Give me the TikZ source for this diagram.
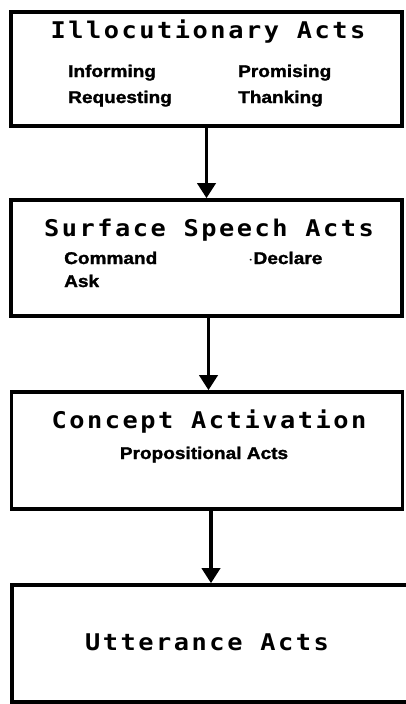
\documentclass[tikz,border=0pt]{standalone}
\usepackage{fontspec}
\usetikzlibrary{arrows.meta}
\newfontfamily\titlefont[LetterSpace=10]{DejaVu Sans Mono Bold}
\newfontfamily\subfont[FakeBold=1.5]{Liberation Sans Bold}
\newcommand{\ttl}[1]{\scalebox{1.1}[1]{\titlefont\fontsize{23}{26}\selectfont #1}}
\newcommand{\sbt}[1]{\scalebox{1.12}[1]{\subfont\fontsize{17}{20}\selectfont #1}}
\begin{document}
\begin{tikzpicture}[x=1pt,y=-1pt,
  box/.style={draw=black, line width=3.6pt, rectangle, inner sep=0pt, fill=none},
  title/.style={anchor=base, inner sep=0pt},
  sub/.style={anchor=base west, inner sep=0pt},
  conn/.style={line width=3.6pt, -{Triangle[width=18pt,length=15pt]}}]
\useasboundingbox (0,0) rectangle (406,704);
% boxes
\node[box, minimum width=391pt, minimum height=114pt] (b1) at (206.5,69) {};
\node[box, minimum width=391pt, minimum height=116pt] (b2) at (206.5,258) {};
\node[box, minimum width=391pt, minimum height=117pt] (b3) at (207,450.5) {};
\node[box, minimum width=401pt, minimum height=117pt] (b4) at (212.5,643.5) {};
% box 1 texts
\node[title] (t1) at (208,38) {\ttl{Illocutionary Acts}};
\node[sub] (s11) at (68,77) {\sbt{Informing}};
\node[sub] (s12) at (238,77) {\sbt{Promising}};
\node[sub] (s13) at (68,103) {\sbt{Requesting}};
\node[sub] (s14) at (238,103) {\sbt{Thanking}};
% box 2 texts
\node[title] (t2) at (209,236) {\ttl{Surface Speech Acts}};
\node[sub] (s21) at (64,264) {\sbt{Command}};
\node[sub] (s22) at (248,264) {\sbt{$\cdot$Declare}};
\node[sub] (s23) at (64,287) {\sbt{Ask}};
% box 3 texts
\node[title] (t3) at (209,428) {\ttl{Concept Activation}};
\node[title] (s31) at (204,459) {\sbt{Propositional Acts}};
% box 4 text
\node[title] (t4) at (207,650) {\ttl{Utterance Acts}};
% connectors
\draw[conn] (b1.south) -- (b2.north);
\draw[conn] ([xshift=2pt]b2.south) -- ([xshift=1.5pt]b3.north);
\draw[conn] ([xshift=4pt]b3.south) -- ([xshift=-1.5pt]b4.north);
\end{tikzpicture}
\end{document}
